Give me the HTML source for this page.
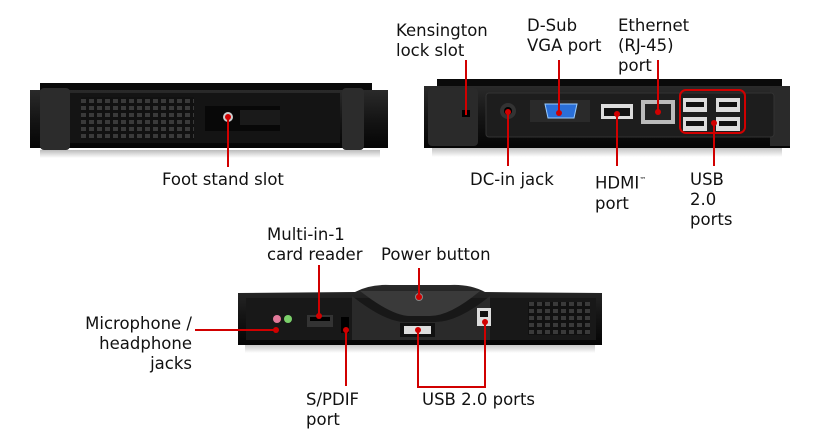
<!DOCTYPE html>
<html><head><meta charset="utf-8"><style>
body{margin:0;width:822px;height:439px;background:#fff;overflow:hidden;position:relative;font-family:"DejaVu Sans","Liberation Sans",sans-serif;}
.t{position:absolute;font-size:16.5px;line-height:20px;color:#111;white-space:nowrap}
svg{position:absolute;left:0;top:0}
</style></head><body>
<svg width="822" height="439" viewBox="0 0 822 439">
<defs>
<pattern id="vent" width="8" height="7" patternUnits="userSpaceOnUse"><rect width="8" height="7" fill="#111"/><rect x="1" y="1" width="5" height="4" fill="#3a3a3a"/></pattern>
<linearGradient id="g1" x1="0" y1="0" x2="0" y2="1"><stop offset="0" stop-color="#2a2a2a"/><stop offset="0.5" stop-color="#151515"/><stop offset="1" stop-color="#050505"/></linearGradient>
<linearGradient id="sh" x1="0" y1="0" x2="0" y2="1"><stop offset="0" stop-color="#bbb"/><stop offset="1" stop-color="#fff"/></linearGradient>
</defs>
<!-- Device 1 -->
<rect x="40" y="150" width="340" height="8" fill="url(#sh)"/>
<rect x="40" y="83" width="332" height="8" fill="#0a0a0a"/>
<rect x="30" y="90" width="358" height="58" fill="url(#g1)"/>
<rect x="40" y="88" width="30" height="62" rx="4" fill="#2c2c2c"/>
<rect x="342" y="88" width="22" height="62" rx="4" fill="#2c2c2c"/>
<rect x="70" y="93" width="270" height="50" fill="#141414"/>
<rect x="81" y="97" width="113" height="43" fill="url(#vent)"/>
<rect x="205" y="106" width="75" height="25" fill="#080808"/>
<rect x="240" y="110" width="40" height="15" fill="#1a1a1a"/>
<circle cx="228" cy="117" r="5" fill="#ccc"/><circle cx="228" cy="117" r="3" fill="#d10000"/>
<line x1="228" y1="117" x2="228" y2="167" stroke="#d10000" stroke-width="2"/>
<!-- Device 2 -->
<rect x="432" y="147" width="350" height="10" fill="url(#sh)"/>
<rect x="437" y="79" width="345" height="8" fill="#0a0a0a"/>
<rect x="424" y="86" width="366" height="62" fill="url(#g1)"/>
<rect x="428" y="88" width="50" height="58" rx="4" fill="#2a2a2a"/>
<rect x="770" y="88" width="20" height="58" fill="#2a2a2a"/>
<rect x="486" y="93" width="288" height="44" rx="3" fill="#1d1d1d" stroke="#333"/>
<rect x="462" y="110" width="8" height="7" fill="#000"/>
<circle cx="508" cy="111" r="8" fill="#333"/><circle cx="508" cy="111" r="4" fill="#000"/>
<rect x="530" y="100" width="60" height="22" fill="#2a2a2a"/>
<path d="M545 104 h32 l-3 14 h-26 z" fill="#2a6fd8" stroke="#9cf"/>
<rect x="601" y="104" width="32" height="15" fill="#ddd"/><rect x="604" y="108" width="26" height="8" fill="#111"/>
<rect x="641" y="100" width="34" height="24" fill="#bbb"/><rect x="645" y="104" width="26" height="16" fill="#222"/>
<rect x="683" y="98" width="24" height="14" fill="#ddd"/><rect x="716" y="98" width="24" height="14" fill="#ddd"/>
<rect x="683" y="117" width="24" height="14" fill="#ddd"/><rect x="716" y="117" width="24" height="14" fill="#ddd"/>
<rect x="686" y="102" width="18" height="5" fill="#111"/><rect x="719" y="102" width="18" height="5" fill="#111"/>
<rect x="686" y="121" width="18" height="5" fill="#111"/><rect x="719" y="121" width="18" height="5" fill="#111"/>
<rect x="680" y="90" width="65" height="43" rx="6" fill="none" stroke="#d10000" stroke-width="2"/>
<g stroke="#d10000" stroke-width="2">
<line x1="466" y1="60" x2="466" y2="115"/><line x1="559" y1="60" x2="559" y2="113"/><line x1="658" y1="60" x2="658" y2="112"/>
<line x1="508" y1="112" x2="508" y2="166"/><line x1="617" y1="113" x2="617" y2="166"/><line x1="714" y1="122" x2="714" y2="166"/>
</g>
<circle cx="508" cy="112" r="3" fill="#d10000"/><circle cx="559" cy="113" r="3" fill="#d10000"/><circle cx="617" cy="114" r="3" fill="#d10000"/><circle cx="658" cy="112" r="3" fill="#d10000"/><circle cx="714" cy="123" r="3" fill="#d10000"/>
<!-- Device 3 -->
<rect x="245" y="343" width="350" height="10" fill="url(#sh)"/>
<path d="M238 293 L355 292 Q370 284 390 285 L450 285 Q470 284 485 292 L602 293 L602 345 L238 345 Z" fill="url(#g1)"/>
<rect x="246" y="298" width="350" height="42" fill="#181818"/>
<path d="M352 296 Q385 322 405 322 L435 322 Q458 322 490 296 L490 340 L352 340 Z" fill="#2a2a2a"/>
<path d="M360 291 Q392 316 410 316 L430 316 Q450 316 480 291 Z" fill="#3a3a3a"/>
<rect x="528" y="302" width="62" height="33" fill="url(#vent)"/>
<circle cx="277" cy="319" r="4" fill="#e27a9a"/><circle cx="288" cy="319" r="4" fill="#7bd06a"/>
<rect x="307" y="315" width="26" height="12" fill="#333"/><rect x="310" y="317" width="20" height="4" fill="#000"/>
<rect x="341" y="317" width="8" height="16" fill="#000"/>
<rect x="400" y="323" width="35" height="14" fill="#111"/><rect x="404" y="326" width="27" height="8" fill="#ddd"/>
<rect x="477" y="308" width="14" height="18" fill="#ddd"/><rect x="480" y="311" width="8" height="6" fill="#111"/>
<circle cx="419" cy="297" r="4" fill="#888"/>
<g stroke="#d10000" stroke-width="2" fill="none">
<line x1="195" y1="330" x2="276" y2="330"/><line x1="319" y1="265" x2="319" y2="316"/><line x1="419" y1="268" x2="419" y2="298"/>
<line x1="346" y1="329" x2="346" y2="386"/>
<polyline points="418,330 418,387 485,387 485,322"/>
</g>
<circle cx="276" cy="330" r="3" fill="#d10000"/><circle cx="319" cy="316" r="3" fill="#d10000"/><circle cx="419" cy="297" r="3" fill="#d10000"/><circle cx="346" cy="330" r="3" fill="#d10000"/><circle cx="418" cy="330" r="3" fill="#d10000"/><circle cx="485" cy="322" r="3" fill="#d10000"/>
</svg>
<div class="t" style="left:162px;top:170px">Foot stand slot</div>
<div class="t" style="left:396px;top:21px">Kensington<br>lock slot</div>
<div class="t" style="left:527px;top:16px">D-Sub<br>VGA port</div>
<div class="t" style="left:618px;top:16px">Ethernet<br>(RJ-45)<br>port</div>
<div class="t" style="left:470px;top:170px">DC-in jack</div>
<div class="t" style="left:595px;top:170px">HDMI<sup style="font-size:7px">™</sup><br>port</div>
<div class="t" style="left:690px;top:170px">USB<br>2.0<br>ports</div>
<div class="t" style="left:267px;top:225px">Multi-in-1<br>card reader</div>
<div class="t" style="left:381px;top:245px">Power button</div>
<div class="t" style="left:70px;top:314px;text-align:right;width:122px">Microphone /<br>headphone<br>jacks</div>
<div class="t" style="left:306px;top:390px">S/PDIF<br>port</div>
<div class="t" style="left:422px;top:390px">USB 2.0 ports</div>
</body></html>
